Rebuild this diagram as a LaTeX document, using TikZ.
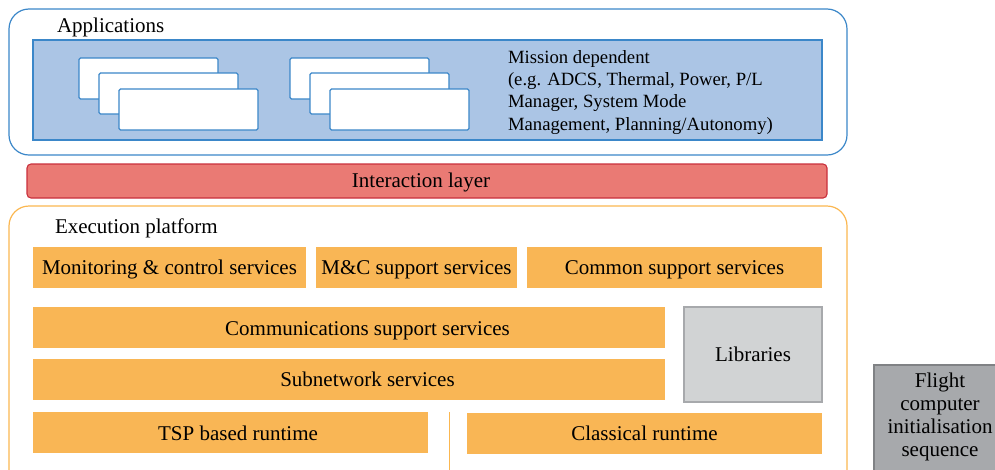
\documentclass[tikz,border=0pt]{standalone}
\usepackage{fontspec}
\setmainfont{Liberation Serif}
\definecolor{bstroke}{HTML}{3B87C9}
\definecolor{bfill}{HTML}{ABC5E5}
\definecolor{rfill}{HTML}{EA7A74}
\definecolor{rstroke}{HTML}{C9303C}
\definecolor{ofill}{HTML}{F9B655}
\definecolor{ostroke}{HTML}{FBB750}
\definecolor{lfill}{HTML}{D1D3D4}
\definecolor{lstroke}{HTML}{A7A9AC}
\definecolor{ffill}{HTML}{A7A9AC}
\definecolor{fstroke}{HTML}{808285}
\begin{document}
\begin{tikzpicture}[x=1pt,y=-1pt,
  every node/.style={inner sep=0pt,outer sep=0pt,font=\fontsize{21}{24}\selectfont},
  outerbox/.style={draw,line width=1.2pt,rounded corners=20pt,fill=white},
  appbox/.style={draw=bstroke,fill=white,line width=1.1pt,rounded corners=1.5pt,minimum width=139pt,minimum height=41pt,anchor=north west},
  obox/.style={fill=ofill,minimum height=41pt,text height=15pt,text depth=2pt},
  txt/.style={text height=15pt,text depth=2pt},
  lbl/.style={anchor=west}
]
\useasboundingbox (0,0) rectangle (995,469);
\clip (0,0) rectangle (995,469);
% Applications
\node[outerbox,draw=bstroke,minimum width=838pt,minimum height=146pt] (apps) at (428,82) {};
\node[lbl] (appslbl) at (57,27) {Applications};
\node[draw=bstroke,fill=bfill,line width=1.1pt,minimum width=789pt,minimum height=100pt] (mission) at (427.5,90) {};
\node[appbox] (a1) at (79,58) {};
\node[appbox] (a2) at (99,73) {};
\node[appbox] (a3) at (119,89) {};
\node[appbox] (b1) at (290,58) {};
\node[appbox] (b2) at (310,73) {};
\node[appbox] (b3) at (330,89) {};
\node[anchor=north west,align=left,font=\fontsize{18.7}{22.2}\selectfont] (mtext) at (508,50.5)
  {Mission dependent\\(e.g. ADCS, Thermal, Power, P/L\\Manager, System Mode\\Management, Planning/Autonomy)};
% Interaction layer
\node[draw=rstroke,fill=rfill,line width=1.1pt,rounded corners=4pt,minimum width=800pt,minimum height=34pt] (inter) at (427,181) {};
\node[txt] (interlbl) at (421,181) {Interaction layer};
% Execution platform
\node[outerbox,draw=ostroke,minimum width=838pt,minimum height=300pt,anchor=north] (exec) at (428,206) {};
\node[lbl] (execlbl) at (55,228) {Execution platform};
\node[obox,minimum width=273pt] (mc) at (169.5,267.5) {Monitoring \& control services};
\node[obox,minimum width=201pt] (mcs) at (416.5,267.5) {M\&C support services};
\node[obox,minimum width=295pt] (css) at (674.5,267.5) {Common support services};
\node[obox,minimum width=632pt] (comm) at (349,327.5) {};
\node[txt] (commlbl) at (367.5,328.5) {Communications support services};
\node[obox,minimum width=632pt] (sub) at (349,379.5) {};
\node[txt] (sublbl) at (367.5,380) {Subnetwork services};
\node[draw=lstroke,fill=lfill,line width=1.1pt,minimum width=138pt,minimum height=95pt,text height=15pt,text depth=2pt] (lib) at (753,354.5) {Libraries};
\node[obox,minimum width=395pt] (tsp) at (230.5,432.5) {};
\node[txt] (tsplbl) at (238,434) {TSP based runtime};
\node[obox,minimum width=355pt] (classic) at (644.5,433.5) {Classical runtime};
\coordinate (vtop) at (449,412);
\coordinate (vbot) at (449,470);
\draw[ostroke,line width=1pt] (vtop) -- (vbot);
% Flight computer
\node[draw=fstroke,fill=ffill,line width=1.1pt,minimum width=140pt,minimum height=130pt,anchor=north west] (flight) at (874,365) {};
\node[anchor=north,align=center,font=\fontsize{21}{23}\selectfont] (ftext) at (940,372.5) {Flight\\computer\\initialisation\\sequence};
\end{tikzpicture}
\end{document}
